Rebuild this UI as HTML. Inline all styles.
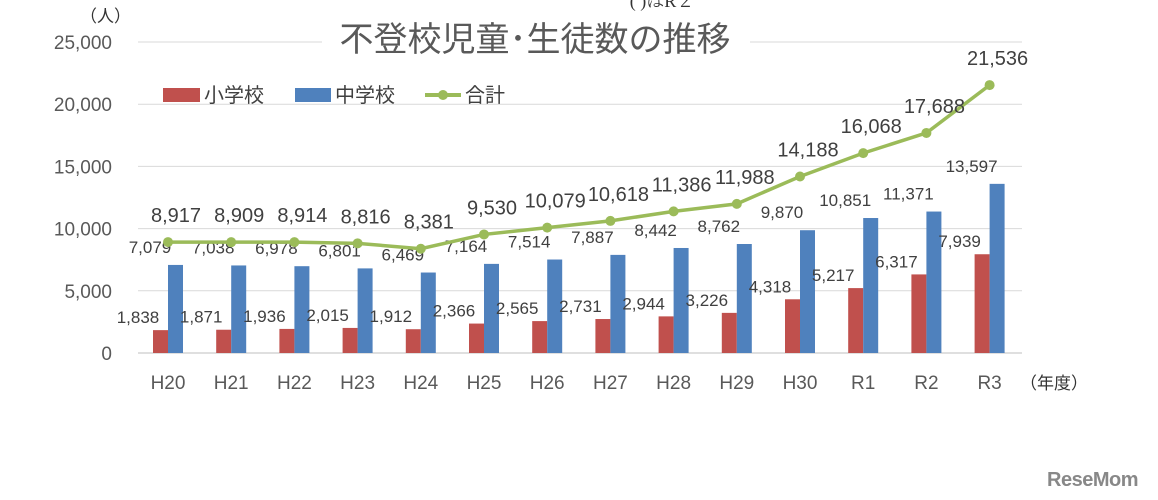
<!DOCTYPE html>
<html><head><meta charset="utf-8"><style>
body{margin:0;background:#fff;}
svg{display:block;font-family:"Liberation Sans","Noto Sans CJK JP",sans-serif;}
</style></head><body>
<svg id="chart" width="1158" height="500">
<text x="662" y="7" font-size="18" fill="#333" font-family="Liberation Serif,Noto Serif CJK SC,serif" text-anchor="middle">( )はR２</text>
<g id="grid"></g>
<rect x="322" y="20" width="428" height="42" fill="#fff"/>
<text x="535" y="51" font-size="34" fill="#595959" text-anchor="middle">不登校児童･生徒数の推移</text>
<text x="80" y="22" font-size="17" fill="#333">（人）</text>
<text x="1020" y="389" font-size="17" fill="#333">（年度）</text>
<g>
<rect x="163" y="88" width="37" height="14" fill="#c0504d"/>
<text x="204" y="102" font-size="20" fill="#404040">小学校</text>
<rect x="295" y="88" width="36" height="14" fill="#4f81bd"/>
<text x="335" y="102" font-size="20" fill="#404040">中学校</text>
<line x1="425" y1="95" x2="461" y2="95" stroke="#9bbb59" stroke-width="4"/>
<circle cx="443" cy="95" r="5" fill="#9bbb59"/>
<text x="465" y="102" font-size="20" fill="#404040">合計</text>
</g>
<g id="marks"></g>
<text x="1047" y="486" font-size="20" font-weight="bold" fill="#888" letter-spacing="-0.5">ReseMom</text>
</svg>
<script>
const categories=["H20","H21","H22","H23","H24","H25","H26","H27","H28","H29","H30","R1","R2","R3"];
const elementary=[1838,1871,1936,2015,1912,2366,2565,2731,2944,3226,4318,5217,6317,7939];
const juniorHigh=[7079,7038,6978,6801,6469,7164,7514,7887,8442,8762,9870,10851,11371,13597];
const total=[8917,8909,8914,8816,8381,9530,10079,10618,11386,11988,14188,16068,17688,21536];
const yTicks=[0,5000,10000,15000,20000,25000];
const NS="http://www.w3.org/2000/svg";
const y=v=>353-v*(311/25000);
const x=i=>168+i*63.2;
const fmt=v=>String(v).replace(/\B(?=(\d{3})+(?!\d))/g,",");
function mk(tag,attrs,parent){const e=document.createElementNS(NS,tag);for(const k in attrs)e.setAttribute(k,attrs[k]);parent.appendChild(e);return e;}
const grid=document.getElementById("grid"),marks=document.getElementById("marks");
yTicks.forEach(t=>{
 const l=mk("line",{x1:138,x2:1022,y1:y(t),y2:y(t),stroke:t===0?"#bfbfbf":"#d9d9d9","stroke-width":1},grid);
 
 
 const tx=mk("text",{x:112,y:y(t)+7,"font-size":19,fill:"#595959","text-anchor":"end"},grid);tx.textContent=fmt(t);
 
 
});
categories.forEach((c,i)=>{
 const t=mk("text",{x:x(i),y:389,"font-size":19,fill:"#595959","text-anchor":"middle"},marks);t.textContent=c;
 
 
 const r=mk("rect",{x:x(i)-15,y:y(elementary[i]),width:15,height:353-y(elementary[i]),fill:"#c0504d"},marks);
 
 
 const b=mk("rect",{x:x(i),y:y(juniorHigh[i]),width:15,height:353-y(juniorHigh[i]),fill:"#4f81bd"},marks);
 
 
 const lr=mk("text",{x:x(i)-30,y:y(elementary[i])-7,"font-size":17,fill:"#404040","text-anchor":"middle"},marks);lr.textContent=fmt(elementary[i]);
 
 
 const lb=mk("text",{x:x(i)-18,y:y(juniorHigh[i])-12,"font-size":17,fill:"#404040","text-anchor":"middle"},marks);lb.textContent=fmt(juniorHigh[i]);
 
 
});
const pl=mk("polyline",{points:total.map((v,i)=>x(i)+","+y(v)).join(" "),fill:"none",stroke:"#9bbb59","stroke-width":3.5},marks);


total.forEach((v,i)=>{
 const c=mk("circle",{cx:x(i),cy:y(v),r:5,fill:"#9bbb59"},marks);
 
 
 const t=mk("text",{x:x(i)+8,y:y(v)-20,"font-size":20,fill:"#404040","text-anchor":"middle"},marks);t.textContent=fmt(v);
 
 
});
</script>
</body></html>
